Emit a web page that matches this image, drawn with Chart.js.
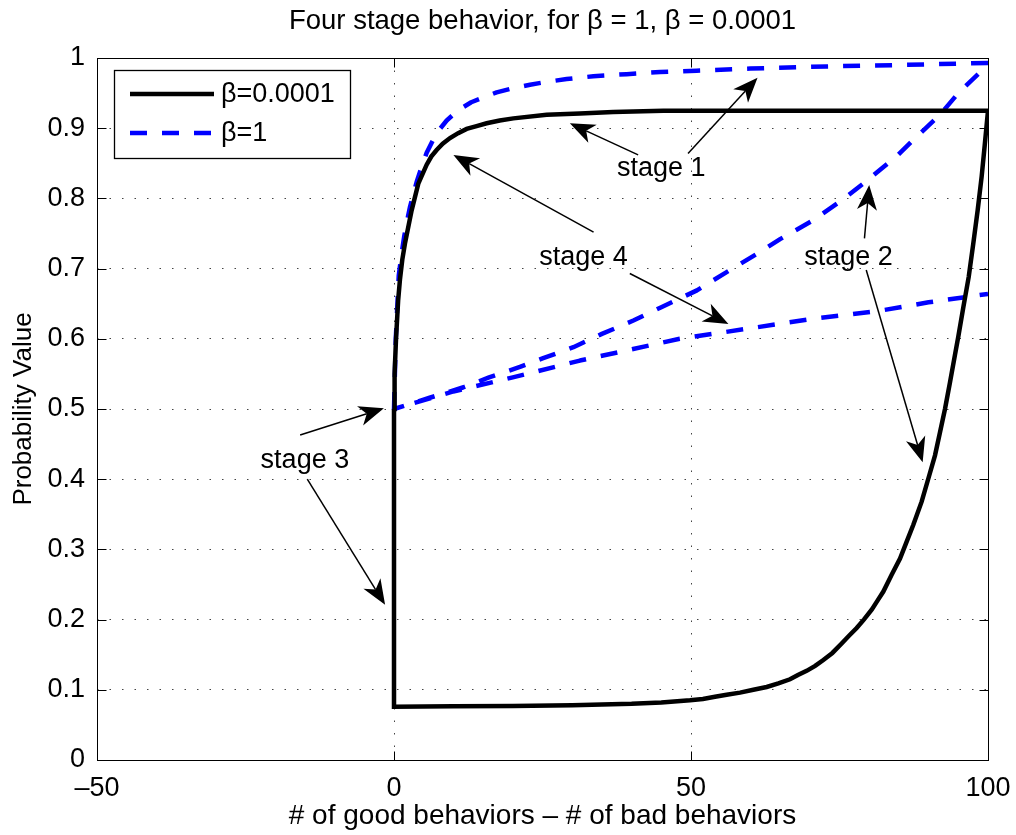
<!DOCTYPE html>
<html lang="en">
<head>
<meta charset="utf-8" />
<title>Four stage behavior</title>
<script src="https://cdn.jsdelivr.net/npm/chart.js@4.4.1/dist/chart.umd.min.js"></script>
<style>
	html, body { margin: 0; padding: 0; background: #fff; }
	#wrap { width: 1016px; height: 835px; }
</style>
</head>
<body>
<div id="wrap"><canvas id="chart"></canvas></div>
<script>
	// beta = 0.0001 : rise from (0,0.5), fall down the right side, back along the bottom
	var lowRiseX = [0, 0.1, 0.34, 0.7, 1.01, 1.4, 1.85, 2.97, 4.09, 5.5, 6.3, 7.18, 8.2, 9.43, 10.8, 12.23, 13.9, 15.6, 17.8, 20.09, 25.7, 31.3, 36.9, 45.35, 60, 80, 100];
	var lowRiseY = [0.5, 0.55, 0.6, 0.655, 0.685, 0.713, 0.736, 0.783, 0.821, 0.848, 0.86, 0.869, 0.878, 0.886, 0.893, 0.899, 0.903, 0.907, 0.911, 0.914, 0.919, 0.921, 0.923, 0.925, 0.925, 0.925, 0.925];
	var lowFallX = [99.44, 98.93, 98.26, 97.53, 96.75, 95.85, 95.0, 94.44, 93.6, 92.76, 91.92, 91.08, 89.96, 88.83, 87.43, 86.31, 85.19, 83.78, 82.38, 81.4, 80.42, 79.1, 77.89, 76.6, 75.36, 73.8, 72.28, 70.9, 69.47, 68, 66.67, 64.7, 62.74, 60.5, 58.25, 56, 54.04, 52, 49.83, 45, 40, 30, 20, 10, 0, 0];
	var lowFallY = [0.875, 0.831, 0.783, 0.736, 0.688, 0.645, 0.603, 0.577, 0.538, 0.5, 0.467, 0.434, 0.401, 0.368, 0.335, 0.311, 0.287, 0.264, 0.24, 0.227, 0.214, 0.2, 0.188, 0.177, 0.166, 0.1525, 0.1425, 0.134, 0.127, 0.121, 0.115, 0.109, 0.104, 0.1, 0.096, 0.093, 0.09, 0.087, 0.085, 0.082, 0.08, 0.078, 0.077, 0.0765, 0.076, 0.5];

	// beta = 1 : rise, return curve, then the slow line
	var highRiseX = [0, 0.3, 0.8, 1.29, 1.7, 2.13, 2.7, 3.25, 3.8, 4.38, 5.5, 6.5, 7.46, 8.87, 10.2, 11.67, 13, 14.48, 16, 17.28, 20.09, 22.9, 25.7, 29.07, 33.56, 39.17, 44.78, 50.95, 60, 72.8, 85, 95, 100];
	var highRiseY = [0.5, 0.6, 0.69, 0.722, 0.745, 0.765, 0.788, 0.806, 0.823, 0.838, 0.865, 0.882, 0.896, 0.911, 0.921, 0.93, 0.937, 0.942, 0.947, 0.951, 0.957, 0.962, 0.966, 0.97, 0.974, 0.977, 0.98, 0.982, 0.985, 0.988, 0.99, 0.992, 0.993];
	var highBackX = [98.6, 95, 91.9, 88, 84.6, 79, 75, 70.6, 65, 61.1, 56, 51, 45, 40.3, 35, 30.2, 25, 21.2, 16, 11.7, 6, 0];
	var highBackY = [0.979, 0.95, 0.919, 0.888, 0.86, 0.821, 0.795, 0.769, 0.742, 0.721, 0.695, 0.669, 0.645, 0.626, 0.607, 0.588, 0.572, 0.56, 0.545, 0.531, 0.516, 0.5];
	var highLineX = [10, 20, 31.3, 40, 48.1, 60, 70, 81.8, 90, 100];
	var highLineY = [0.525, 0.545, 0.569, 0.585, 0.6, 0.615, 0.628, 0.64, 0.652, 0.664];

	var xTicks = [-50, 0, 50, 100];
	var yTicks = [0, 0.1, 0.2, 0.3, 0.4, 0.5, 0.6, 0.7, 0.8, 0.9, 1];

	// annotations: text and arrows, in data units
	var stageText = ['stage 1', 'stage 2', 'stage 3', 'stage 4'];
	var stageX = [45, 76.5, -15, 31.9];
	var stageY = [0.842, 0.716, 0.427, 0.716];
	var arrowFromX = [41.1, 49.5, 79.2, 79.5, -15.8, -14.6, 33.6, 39.7];
	var arrowFromY = [0.862, 0.864, 0.743, 0.698, 0.463, 0.4, 0.752, 0.693];
	var arrowToX = [29.6, 61.2, 80.0, 89.0, -1.7, -1.5, 10, 56.3];
	var arrowToY = [0.907, 0.972, 0.819, 0.424, 0.501, 0.221, 0.862, 0.621];

	function toPoints(xs, ys) {
		return xs.map((x, i) => ({ x: x, y: ys[i] }));
	}

	var FONT = 'Liberation Sans, Arial, Helvetica, sans-serif';

	var boxPlugin = {
		id: 'matlabBox',
		afterDatasetsDraw(chart) {
			var ctx = chart.ctx, a = chart.chartArea;
			var xs = chart.scales.x, ys = chart.scales.y;
			ctx.save();
			ctx.strokeStyle = '#000';
			ctx.lineWidth = 1;
			ctx.setLineDash([]);
			var L = Math.round(a.left) + 0.5, R = Math.round(a.right) + 0.5;
			var T = Math.round(a.top) + 0.5, B = Math.round(a.bottom) + 0.5;
			ctx.strokeRect(L, T, R - L, B - T);
			ctx.beginPath();
			xTicks.forEach(v => {
				var p = Math.round(xs.getPixelForValue(v)) + 0.5;
				ctx.moveTo(p, B); ctx.lineTo(p, B - 9);
				ctx.moveTo(p, T); ctx.lineTo(p, T + 9);
			});
			yTicks.forEach(v => {
				var p = Math.round(ys.getPixelForValue(v)) + 0.5;
				ctx.moveTo(L, p); ctx.lineTo(L + 9, p);
				ctx.moveTo(R, p); ctx.lineTo(R - 9, p);
			});
			ctx.stroke();

			// stage labels and arrows
			ctx.fillStyle = '#000';
			ctx.font = '27px ' + FONT;
			ctx.textAlign = 'center';
			ctx.textBaseline = 'middle';
			stageText.forEach((t, i) => {
				ctx.fillText(t, xs.getPixelForValue(stageX[i]), ys.getPixelForValue(stageY[i]));
			});
			arrowFromX.forEach((fx, i) => {
				var x0 = xs.getPixelForValue(fx), y0 = ys.getPixelForValue(arrowFromY[i]);
				var x1 = xs.getPixelForValue(arrowToX[i]), y1 = ys.getPixelForValue(arrowToY[i]);
				var ang = Math.atan2(y1 - y0, x1 - x0);
				var c = Math.cos(ang), sn = Math.sin(ang);
				var len = 25, half = 10, back = 18;
				ctx.lineWidth = 1.5;
				ctx.beginPath();
				ctx.moveTo(x0, y0);
				ctx.lineTo(x1 - c * back, y1 - sn * back);
				ctx.stroke();
				ctx.beginPath();
				ctx.moveTo(x1, y1);
				ctx.lineTo(x1 - c * len - sn * half, y1 - sn * len + c * half);
				ctx.lineTo(x1 - c * back, y1 - sn * back);
				ctx.lineTo(x1 - c * len + sn * half, y1 - sn * len - c * half);
				ctx.closePath();
				ctx.fill();
			});

			// legend box, top left inside the axes
			var lx = a.left + 17, ly = a.top + 12, lw = 236, lh = 88;
			ctx.fillStyle = '#fff';
			ctx.fillRect(lx, ly, lw, lh);
			ctx.lineWidth = 1.3;
			ctx.strokeStyle = '#000';
			ctx.strokeRect(Math.round(lx) + 0.5, Math.round(ly) + 0.5, lw, lh);
			chart.data.datasets.forEach((ds, i) => {
				var yy = ly + 24 + i * 39;
				ctx.strokeStyle = ds.borderColor;
				ctx.lineWidth = ds.borderWidth;
				ctx.setLineDash(ds.borderDash || []);
				ctx.beginPath();
				ctx.moveTo(lx + 16, yy);
				ctx.lineTo(lx + 100, yy);
				ctx.stroke();
				ctx.setLineDash([]);
				ctx.fillStyle = '#000';
				ctx.textAlign = 'left';
				ctx.font = '27px ' + FONT;
				ctx.fillText(ds.label, lx + 107, yy + 1);
			});
			ctx.restore();
		}
	};

	var tickFmt = v => {
		var r = Math.round(v * 10) / 10;
		return r < 0 ? '\u2013' + Math.abs(r) : String(r);
	};

	new Chart(document.getElementById('chart'), {
		type: 'scatter',
		data: {
			datasets: [{
				label: '\u03b2=0.0001',
				data: toPoints(lowRiseX.concat(lowFallX), lowRiseY.concat(lowFallY)),
				showLine: true,
				borderColor: '#000000',
				borderWidth: 4.5,
				borderJoinStyle: 'miter',
				pointRadius: 0,
				tension: 0
			}, {
				label: '\u03b2=1',
				data: toPoints(highRiseX.concat(highBackX, highLineX), highRiseY.concat(highBackY, highLineY)),
				showLine: true,
				borderColor: '#0000ff',
				borderWidth: 4.5,
				borderDash: [17, 15],
				borderJoinStyle: 'round',
				pointRadius: 0,
				tension: 0
			}]
		},
		options: {
			responsive: true,
			maintainAspectRatio: false,
			animation: false,
			layout: { padding: { top: 0, right: 28, bottom: 0, left: 0 } },
			plugins: {
				legend: { display: false },
				tooltip: { enabled: false },
				title: {
					display: true,
					fullSize: false,
					text: 'Four stage behavior, for \u03b2 = 1, \u03b2 = 0.0001',
					color: '#000',
					font: { family: FONT, size: 27.5, weight: 'normal' },
					padding: { top: 5, bottom: 20 }
				}
			},
			scales: {
				x: {
					type: 'linear',
					min: -50, max: 100,
					afterFit: s => { s.height = 75; s.paddingLeft = 0; s.paddingRight = 0; },
					afterBuildTicks: s => { s.ticks = xTicks.map(v => ({ value: v })); },
					ticks: { color: '#000', font: { family: FONT, size: 27 }, padding: 12, callback: tickFmt, maxRotation: 0 },
					grid: { color: '#444', lineWidth: 1, drawTicks: false },
					border: { display: false, dash: [1.5, 11] },
					title: {
						display: true,
						text: '# of good behaviors \u2013 # of bad behaviors',
						color: '#000',
						font: { family: FONT, size: 28 },
						padding: { top: 0, bottom: 2 }
					}
				},
				y: {
					type: 'linear',
					min: 0, max: 1,
					afterFit: s => { s.width = 97; s.paddingTop = 0; s.paddingBottom = 0; },
					afterBuildTicks: s => { s.ticks = yTicks.map(v => ({ value: v })); },
					ticks: { color: '#000', font: { family: FONT, size: 27 }, padding: 12, callback: tickFmt },
					grid: { color: '#444', lineWidth: 1, drawTicks: false },
					border: { display: false, dash: [1.5, 11] },
					title: {
						display: true,
						text: 'Probability Value',
						color: '#000',
						font: { family: FONT, size: 26 },
						padding: { top: 8, bottom: 0 }
					}
				}
			}
		},
		plugins: [boxPlugin]
	});
</script>
</body>
</html>
